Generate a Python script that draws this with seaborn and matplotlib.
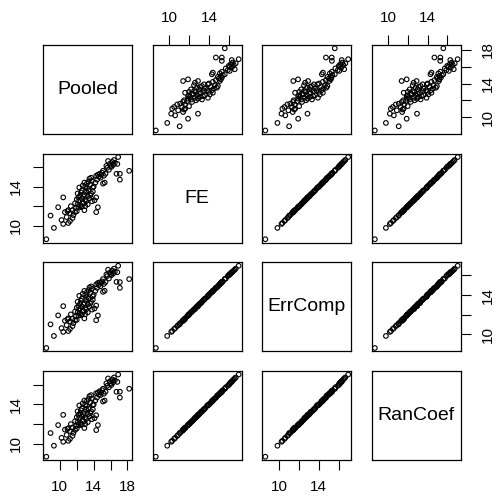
import matplotlib
matplotlib.use("Agg")
import matplotlib.pyplot as plt
import seaborn as sns
import numpy as np
import pandas as pd

names = ["Pooled", "FE", "ErrComp", "RanCoef"]

Pooled = [8.4, 9.3, 10.4, 8.9, 9.8, 10.4, 11.0, 11.2, 11.5, 10.6,
          10.9, 11.2, 11.5, 11.6, 11.8, 12.0, 12.9, 12.1, 12.3, 12.5,
          12.6, 12.8, 12.9, 13.0, 13.1, 12.7, 12.4, 13.2, 13.3, 13.4,
          13.5, 13.6, 13.0, 13.7, 12.2, 12.6, 12.8, 13.1, 13.3, 12.5,
          12.9, 13.4, 14.3, 14.5, 14.3, 13.9, 14.1, 15.1, 15.3, 14.3,
          14.5, 14.7, 14.9, 15.0, 15.2, 15.4, 14.6, 15.5, 15.7, 16.0,
          16.1, 16.3, 16.9, 16.7, 17.1, 17.1, 18.2, 13.8, 14.0, 12.0,
          11.8, 12.3, 11.3, 10.8, 10.2, 12.7, 13.2, 13.6, 13.9, 14.2,
          15.8, 16.2, 15.6, 16.5, 13.5, 12.4, 11.9, 12.2, 13.0, 14.8,
          15.9, 16.8, 11.0, 12.1, 13.7, 14.4, 16.4, 15.1, 12.6, 13.8]

FE = [8.65, 9.8, 10.2, 11.05, 11.9, 12.9, 11.6, 10.5, 10.8, 11.4,
      11.5, 11.3, 11.6, 11.1, 11.4, 11.5, 11.6, 12.2, 12.6, 13.4,
      12.8, 13.0, 13.2, 12.7, 13.5, 12.4, 12.1, 13.8, 13.0, 13.6,
      14.8, 14.2, 14.0, 13.3, 12.9, 13.6, 12.3, 12.5, 12.2, 11.9,
      14.4, 14.5, 11.4, 11.9, 12.9, 13.9, 12.6, 14.3, 14.4, 15.1,
      15.2, 15.3, 15.2, 15.4, 15.1, 15.3, 15.0, 16.1, 16.6, 16.1,
      16.0, 16.2, 17.0, 15.3, 14.7, 15.3, 15.6, 14.6, 14.0, 12.7,
      12.3, 13.9, 12.0, 10.9, 10.6, 14.1, 14.3, 13.1, 13.5, 14.4,
      15.7, 16.5, 15.9, 16.4, 12.8, 13.1, 11.8, 11.9, 12.0, 14.9,
      16.3, 16.3, 10.3, 13.3, 14.9, 14.7, 16.7, 15.6, 12.0, 12.5]

ErrComp = [8.62, 9.84, 10.25, 11.02, 11.93, 12.87, 11.63, 10.55, 10.84, 11.38,
           11.53, 11.32, 11.58, 11.14, 11.43, 11.47, 11.62, 12.24, 12.58, 13.43,
           12.82, 13.03, 13.18, 12.72, 13.52, 12.43, 12.13, 13.78, 13.04, 13.62,
           14.77, 14.23, 14.02, 13.32, 12.88, 13.63, 12.33, 12.52, 12.24, 11.93,
           14.42, 14.48, 11.44, 11.92, 12.93, 13.88, 12.63, 14.32, 14.43, 15.08,
           15.22, 15.28, 15.23, 15.38, 15.12, 15.32, 15.02, 16.08, 16.57, 16.13,
           16.02, 16.18, 16.97, 15.33, 14.73, 15.31, 15.62, 14.63, 14.03, 12.72,
           12.32, 13.92, 12.03, 10.94, 10.63, 14.12, 14.28, 13.13, 13.52, 14.42,
           15.68, 16.48, 15.92, 16.38, 12.83, 13.12, 11.83, 11.92, 12.04, 14.88,
           16.28, 16.32, 10.34, 13.32, 14.87, 14.72, 16.68, 15.62, 12.03, 12.52]

RanCoef = [8.66, 9.78, 10.18, 11.07, 11.88, 12.92, 11.57, 10.48, 10.78, 11.42,
           11.48, 11.27, 11.63, 11.08, 11.38, 11.53, 11.58, 12.18, 12.63, 13.38,
           12.78, 12.98, 13.23, 12.68, 13.48, 12.38, 12.08, 13.83, 12.97, 13.58,
           14.83, 14.18, 13.97, 13.28, 12.92, 13.58, 12.28, 12.48, 12.18, 11.88,
           14.38, 14.53, 11.37, 11.88, 12.88, 13.93, 12.58, 14.28, 14.38, 15.13,
           15.18, 15.33, 15.18, 15.43, 15.08, 15.28, 14.98, 16.13, 16.63, 16.08,
           15.97, 16.23, 17.03, 15.27, 14.68, 15.28, 15.58, 14.58, 13.98, 12.68,
           12.28, 13.88, 11.98, 10.88, 10.58, 14.08, 14.33, 13.08, 13.48, 14.38,
           15.73, 16.53, 15.88, 16.43, 12.78, 13.08, 11.78, 11.88, 11.98, 14.93,
           16.33, 16.28, 10.28, 13.28, 14.93, 14.68, 16.73, 15.58, 11.98, 12.48]

ticks_pooled = [10, 12, 14, 16, 18]
ticks_other = [10, 12, 14, 16]
tick_map = {"Pooled": ticks_pooled, "FE": ticks_other,
            "ErrComp": ticks_other, "RanCoef": ticks_other}

df = pd.DataFrame({"Pooled": Pooled, "FE": FE, "ErrComp": ErrComp, "RanCoef": RanCoef})

sns.set_style("white")
plt.rcParams["font.family"] = ["Liberation Sans", "DejaVu Sans"]
plt.rcParams["text.color"] = "black"
plt.rcParams["xtick.color"] = "black"
plt.rcParams["ytick.color"] = "black"
plt.rcParams["axes.labelcolor"] = "black"

fig, axes = plt.subplots(4, 4, figsize=(4.97, 4.98), dpi=100)
fig.subplots_adjust(left=43/497, right=461/497, top=1-45/498, bottom=1-460/498,
                    wspace=0.2235, hspace=0.225)

lims = {}
for n in names:
    v = df[n]
    r = v.max() - v.min()
    lims[n] = (v.min() - 0.04*r, v.max() + 0.04*r)

def lbls(t):
    return [str(x) if (x - 10) % 4 == 0 else "" for x in t]

tick_kw = dict(length=7.2, width=0.8, color="black", labelcolor="black",
               labelsize=11, pad=7, direction="out")

for i, yn in enumerate(names):
    for j, xn in enumerate(names):
        ax = axes[i, j]
        for s in ax.spines.values():
            s.set_visible(True)
            s.set_color("black")
            s.set_linewidth(0.9)
        ax.set_xlim(lims[xn])
        if i == j:
            ax.set_ylim(0, 1)
            ax.set_xlim(0, 1)
            ax.text(0.5, 0.5, yn, ha="center", va="center", fontsize=14,
                    color="black", transform=ax.transAxes)
        else:
            ax.set_ylim(lims[yn])
            sns.scatterplot(data=df, x=xn, y=yn, ax=ax, marker="o", s=11,
                            facecolor="none", edgecolor="black", linewidth=0.8,
                            legend=False)
        ax.set_xlabel("")
        ax.set_ylabel("")
        if i == 3 and j in (0, 2):
            ax.set_xticks(tick_map[xn])
            ax.set_xticklabels(lbls(tick_map[xn]))
            ax.tick_params(axis="x", bottom=True, top=False, labelbottom=True,
                           labeltop=False, **tick_kw)
        elif i == 0 and j in (1, 3):
            ax.set_xticks(tick_map[xn])
            ax.set_xticklabels(lbls(tick_map[xn]))
            ax.xaxis.set_ticks_position("top")
            ax.tick_params(axis="x", bottom=False, top=True, labelbottom=False,
                           labeltop=True, **tick_kw)
        else:
            ax.set_xticks([])
        if j == 0 and i in (1, 3):
            ax.set_yticks(tick_map[yn])
            ax.set_yticklabels(lbls(tick_map[yn]), rotation=90, va="center")
            ax.tick_params(axis="y", left=True, right=False, labelleft=True,
                           labelright=False, **tick_kw)
        elif j == 3 and i in (0, 2):
            ax.set_yticks(tick_map[yn])
            ax.set_yticklabels(lbls(tick_map[yn]), rotation=90, va="center")
            ax.yaxis.set_ticks_position("right")
            ax.tick_params(axis="y", left=False, right=True, labelleft=False,
                           labelright=True, **tick_kw)
        else:
            ax.set_yticks([])

fig.savefig("out.png", dpi=100)
